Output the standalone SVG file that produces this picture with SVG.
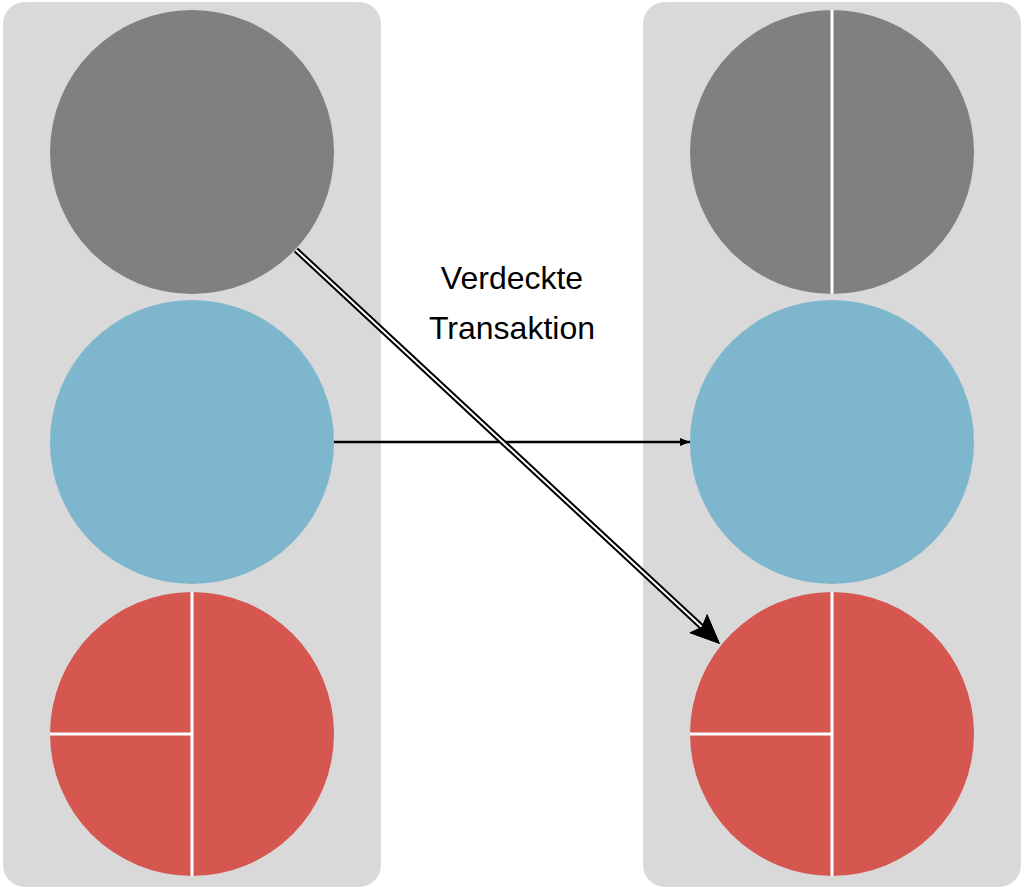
<svg xmlns="http://www.w3.org/2000/svg" width="1024" height="889" viewBox="0 0 1024 889">
<style>
.panel{fill:#d9d9d9}
.grey{fill:#808080}.blue{fill:#7eb7cd}.red{fill:#d6574f}
.div{stroke:#fff;stroke-width:3;fill:none}
text{font-family:"Liberation Sans",Arial,sans-serif;font-size:32px;fill:#000}
</style>
<defs>
<marker id="ah" markerWidth="10" markerHeight="8" refX="10" refY="4" orient="auto" markerUnits="userSpaceOnUse" viewBox="0 0 10 8"><path d="M0,0 L10,4 L0,8 Z" fill="#000"/></marker>
<marker id="ah2" markerWidth="30" markerHeight="26" refX="30" refY="13" orient="auto" markerUnits="userSpaceOnUse" viewBox="0 0 30 26"><path d="M0,0 L30,13 L0,26 L5,13 Z" fill="#000"/></marker>
</defs>
<g id="left-panel"><rect class="panel" x="3" y="2" width="378" height="885" rx="22"/></g>
<g id="right-panel"><rect class="panel" x="643" y="2" width="378" height="885" rx="22"/></g>
<g id="l-grey"><circle class="grey" cx="192" cy="152" r="142"/></g>
<g id="l-blue"><circle class="blue" cx="192" cy="442" r="142"/></g>
<g id="l-red"><circle class="red" cx="192" cy="734" r="142"/><path class="div" d="M192,592 V876 M50,734 H192"/></g>
<g id="r-grey"><circle class="grey" cx="832" cy="152" r="142"/><path class="div" d="M832,10 V294"/></g>
<g id="r-blue"><circle class="blue" cx="832" cy="442" r="142"/></g>
<g id="r-red"><circle class="red" cx="832" cy="734" r="142"/><path class="div" d="M832,592 V876 M690,734 H832"/></g>
<g id="connectors">
<line x1="334" y1="442" x2="690" y2="442" stroke="#000" stroke-width="2.5" marker-end="url(#ah)"/>
<line x1="296" y1="250" x2="704" y2="629" stroke="#000" stroke-width="6"/>
<line x1="296" y1="250" x2="704" y2="629" stroke="#fff" stroke-width="2"/>
<line x1="700" y1="625.3" x2="720" y2="644" stroke="none" marker-end="url(#ah2)"/>
<path d="M698,623 L720,644" stroke="#000" stroke-width="0.1" marker-end="url(#ah2)"/>
</g>
<g id="label"><text x="512" y="289" text-anchor="middle">Verdeckte</text><text x="512" y="339" text-anchor="middle">Transaktion</text></g>
</svg>
